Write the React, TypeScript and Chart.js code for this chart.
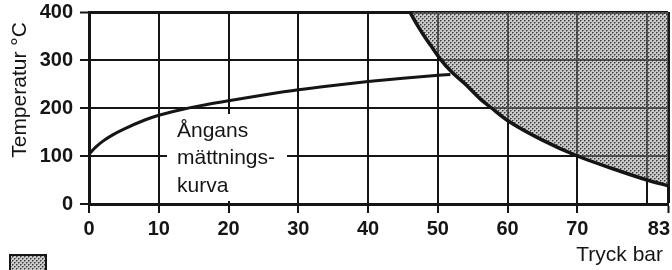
import React, { useEffect, useRef } from 'react';
import { Chart, registerables } from 'chart.js';

Chart.register(...registerables);

// ---- data ----
const pressureTicks = [0, 10, 20, 30, 40, 50, 60, 70, 80, 83];
const pressureLabels = ['0', '10', '20', '30', '40', '50', '60', '70', '', '83'];
const tempTicks = [0, 100, 200, 300, 400];

// Ångans mättningskurva (saturation curve)
const satPressure = [0, 1, 2, 3.4, 5, 8, 10, 13, 16, 20, 25, 30, 35, 40, 45, 50, 51.8];
const satTemp = [104, 119, 131, 144, 156, 175, 185, 196, 205, 215, 227, 238, 247, 255, 262, 268, 270];

// boundary of the shaded region
const boundPressure = [46.0, 47, 48, 49, 50.3, 52, 54, 56, 57.7, 60, 65, 70, 75, 80, 83];
const boundTemp = [400, 374, 351, 330, 303, 275, 249, 220, 200, 174, 133, 100, 74, 50, 38];

const yTitle = 'Temperatur °C';
const xTitle = 'Tryck bar';
const curveLabel = ['Ångans', 'mättnings-', 'kurva'];

const INK = '#151515';

function makePattern(): CanvasPattern | string {
  const c = document.createElement('canvas');
  c.width = 4;
  c.height = 4;
  const g = c.getContext('2d');
  if (!g) return '#bbb';
  g.fillStyle = 'rgba(150,150,150,0.5)';
  g.fillRect(0, 0, 4, 4);
  g.fillStyle = 'rgba(30,30,30,0.85)';
  g.fillRect(0, 0, 1, 1);
  g.fillRect(2, 2, 1, 1);
  g.fillStyle = 'rgba(70,70,70,0.55)';
  g.fillRect(1, 0, 1, 1);
  g.fillRect(3, 2, 1, 1);
  g.fillRect(0, 1, 1, 1);
  g.fillRect(2, 3, 1, 1);
  const p = g.createPattern(c, 'repeat');
  return p || '#bbb';
}

export default function App() {
  const ref = useRef<HTMLCanvasElement | null>(null);

  useEffect(() => {
    const canvas = ref.current;
    if (!canvas) return;
    const pattern = makePattern();

    const decor = {
      id: 'decor',
      beforeDatasetsDraw(chart: any) {
        const ctx = chart.ctx;
        ctx.save();
        ctx.fillStyle = '#ffffff';
        ctx.fillRect(167, 114, 120, 87);
        ctx.restore();
      },
      afterDraw(chart: any) {
        const ctx = chart.ctx;
        const xs = chart.scales.x;
        ctx.save();
        ctx.fillStyle = INK;
        // x tick labels
        ctx.font = 'bold 20px "Liberation Sans", Arial, sans-serif';
        ctx.textBaseline = 'alphabetic';
        ctx.textAlign = 'center';
        pressureTicks.forEach((v, i) => {
          const lab = pressureLabels[i];
          if (!lab) return;
          let px = xs.getPixelForValue(v);
          const w = ctx.measureText(lab).width;
          if (px + w / 2 > 670) px = 670 - w / 2;
          ctx.fillText(lab, px, 235);
        });
        // axis titles
        ctx.font = '21px "Liberation Sans", Arial, sans-serif';
        ctx.textAlign = 'right';
        ctx.fillText(xTitle, 663, 261);
        ctx.save();
        ctx.translate(26, 90);
        ctx.rotate(-Math.PI / 2);
        ctx.textAlign = 'center';
        ctx.fillText(yTitle, 0, 0);
        ctx.restore();
        // curve annotation
        ctx.textAlign = 'left';
        const baselines = [137, 164, 192];
        curveLabel.forEach((t, i) => ctx.fillText(t, 177, baselines[i]));
        // legend swatch
        ctx.fillStyle = '#ffffff';
        ctx.fillRect(10, 255, 36, 20);
        ctx.fillStyle = pattern;
        ctx.fillRect(10, 255, 36, 20);
        ctx.strokeStyle = INK;
        ctx.lineWidth = 2;
        ctx.strokeRect(10, 255, 36, 20);
        ctx.restore();
      },
    };

    const chart = new Chart(canvas, {
      type: 'line',
      data: {
        datasets: [
          {
            label: 'Ångans mättningskurva',
            data: satPressure.map((p, i) => ({ x: p, y: satTemp[i] })),
            borderColor: INK,
            borderWidth: 3,
            pointRadius: 0,
            fill: false,
            cubicInterpolationMode: 'monotone',
          },
          {
            label: 'gräns',
            data: boundPressure.map((p, i) => ({ x: p, y: boundTemp[i] })),
            borderColor: INK,
            borderWidth: 3.5,
            pointRadius: 0,
            fill: 'end',
            backgroundColor: pattern as any,
            cubicInterpolationMode: 'monotone',
          },
        ],
      },
      options: {
        responsive: false,
        animation: false,
        devicePixelRatio: 1,
        layout: { padding: { top: 12, right: 4, left: 0, bottom: 0 } },
        plugins: { legend: { display: false }, tooltip: { enabled: false } },
        scales: {
          x: {
            type: 'linear',
            min: 0,
            max: 83,
            afterBuildTicks: (s: any) => {
              s.ticks = pressureTicks.map((v) => ({ value: v }));
            },
            afterFit: (s: any) => {
              s.height = 66;
              s.paddingLeft = 0;
              s.paddingRight = 0;
            },
            ticks: { display: false },
            grid: {
              color: INK,
              lineWidth: (c: any) => (c.tick && c.tick.value === 83 ? 3 : 2),
              tickLength: 9,
              tickWidth: 2,
              tickColor: (c: any) => (c.tick && c.tick.value === 80 ? 'rgba(0,0,0,0)' : INK),
            },
            border: { display: true, color: INK, width: 3 },
          },
          y: {
            type: 'linear',
            min: 0,
            max: 400,
            afterBuildTicks: (s: any) => {
              s.ticks = tempTicks.map((v) => ({ value: v }));
            },
            afterFit: (s: any) => {
              s.width = 89;
              s.paddingTop = 0;
              s.paddingBottom = 0;
            },
            ticks: {
              color: INK,
              padding: 7,
              font: { family: '"Liberation Sans", Arial, sans-serif', size: 20, weight: 'bold' },
              callback: (v: any) => String(v),
            },
            grid: {
              color: INK,
              lineWidth: (c: any) => (c.tick && c.tick.value === 400 ? 3 : 2),
              tickLength: 9,
              tickWidth: 2,
              tickColor: INK,
            },
            border: { display: true, color: INK, width: 3 },
          },
        },
      },
      plugins: [decor],
    } as any);

    return () => chart.destroy();
  }, []);

  return (
    <div style={{ position: 'fixed', left: 0, top: 0, width: 672, height: 270, background: '#fff' }}>
      <canvas ref={ref} width={672} height={270} style={{ display: 'block' }} />
    </div>
  );
}
